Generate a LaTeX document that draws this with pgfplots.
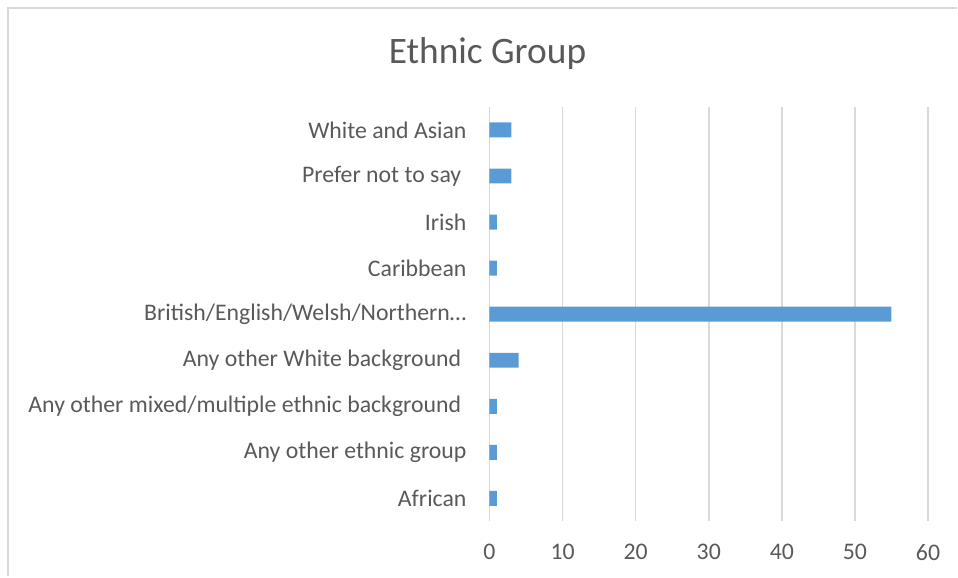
\documentclass[border=0pt]{standalone}
\usepackage{fontspec}
\setmainfont{Carlito}
\usepackage{pgfplots}
\pgfplotsset{compat=1.18}
\definecolor{barblue}{HTML}{5B9BD5}
\definecolor{gridgray}{HTML}{D9D9D9}
\definecolor{labelgray}{HTML}{595959}
\begin{document}
\begin{tikzpicture}
% canvas 958x577 px at 0.5pt per px
\path (0pt,0pt) rectangle (479pt,-288.5pt);
\draw[gridgray, line width=1pt] (4pt,-288.5pt) -- (4pt,-4pt) -- (479pt,-4pt);
\node[labelgray, font=\fontsize{18.7}{20}\selectfont] at (244pt,-27pt) {Ethnic Group};
\begin{axis}[
  at={(245pt,-261pt)}, anchor=south west,
  scale only axis, width=219.5pt, height=207.5pt,
  xbar, bar width=7.5pt,
  xmin=0, xmax=60, ymin=-0.5, ymax=8.5,
  xtick={0,10,...,60}, ytick={0,...,8},
  yticklabels={African, Any other ethnic group,
    {Any other mixed/multiple ethnic background\kern0.22em},
    {Any other White background\kern0.22em},
    British/English/Welsh/Northern…, Caribbean, Irish,
    {Prefer not to say\kern0.22em}, White and Asian},
  xmajorgrids, major grid style={gridgray, line width=0.75pt},
  axis line style={draw=none},
  major tick length=0pt,
  tick label style={labelgray, font=\fontsize{11.9}{13}\selectfont},
  xticklabel style={yshift=-8pt},
  yticklabel style={xshift=-8pt},
  /pgf/number format/assume math mode=true,
]
\addplot[fill=barblue, draw=none] coordinates {
  (1,0) (1,1) (1,2) (4,3) (55,4) (1,5) (1,6) (3,7) (3,8)
};
\end{axis}
\end{tikzpicture}
\end{document}
